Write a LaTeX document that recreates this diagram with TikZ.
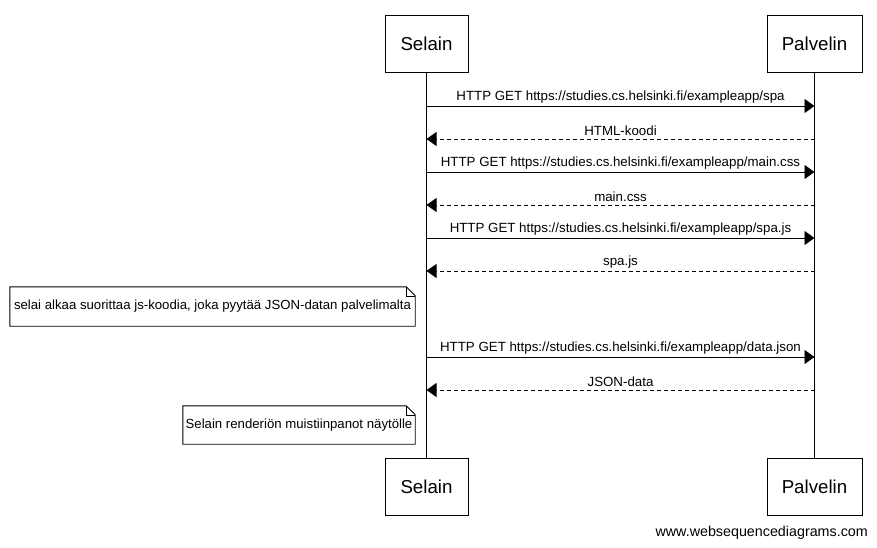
\documentclass[tikz,border=0pt]{standalone}
\usepackage{fontspec}
\setmainfont{Liberation Sans}
\usetikzlibrary{arrows.meta, calc}
\tikzset{
  actor/.style={draw=black, line width=0.9pt, fill=white, minimum height=57pt,
                inner sep=0pt, font=\fontsize{18.7}{21}\selectfont},
  life/.style={line width=0.9pt, draw=black},
  req/.style={-{Triangle[length=10pt, width=14pt]}, line width=0.9pt},
  resp/.style={req, dash pattern=on 4pt off 3pt},
  lbl/.style={above, inner sep=2.5pt, font=\fontsize{13.3}{15}\selectfont},
  notebox/.style={inner sep=0pt, align=center, font=\fontsize{13.2}{15}\selectfont},
}

\begin{document}
\begin{tikzpicture}[x=1pt, y=-1pt]
  \useasboundingbox (0,0) rectangle (877,548);
  % participants
  \node[actor, minimum width=83pt] (selT) at (426.5,43.5) {Selain};
  \node[actor, minimum width=95pt] (palT) at (814.5,43.5) {Palvelin};
  \node[actor, minimum width=83pt] (selB) at (426.5,486.5) {Selain};
  \node[actor, minimum width=95pt] (palB) at (814.5,486.5) {Palvelin};
  \draw[life] (selT) -- (selB);
  \draw[life] (palT) -- (palB);

  % message rows
  \foreach \i/\yy in {1/106, 2/139, 3/172, 4/205, 5/238, 6/271, 7/357, 8/390} {
    \coordinate (s\i) at (selT |- 0,\yy);
    \coordinate (p\i) at (palT |- 0,\yy);
  }
  \draw[req] (s1) -- node[lbl] {HTTP GET https://studies.cs.helsinki.fi/exampleapp/spa} (p1);
  \draw[resp] (p2) -- node[lbl] {HTML-koodi} (s2);
  \draw[req] (s3) -- node[lbl] {HTTP GET https://studies.cs.helsinki.fi/exampleapp/main.css} (p3);
  \draw[resp] (p4) -- node[lbl] {main.css} (s4);
  \draw[req] (s5) -- node[lbl] {HTTP GET https://studies.cs.helsinki.fi/exampleapp/spa.js} (p5);
  \draw[resp] (p6) -- node[lbl] {spa.js} (s6);
  \draw[req] (s7) -- node[lbl] {HTTP GET https://studies.cs.helsinki.fi/exampleapp/data.json} (p7);
  \draw[resp] (p8) -- node[lbl] {JSON-data} (s8);

  % notes
  \node[notebox, minimum width=405pt, minimum height=39pt] (n1) at (212.5,306.5)
    {selai alkaa suorittaa js-koodia, joka pyytää JSON-datan palvelimalta};
  \node[notebox, minimum width=232pt, minimum height=38pt] (n2) at (299,425)
    {Selain renderiön muistiinpanot näytölle};
  \foreach \n in {n1, n2} {
    \draw[line width=0.9pt] (\n.north west) -- ([xshift=-9pt]\n.north east)
      -- ([yshift=-9pt]\n.north east) -- (\n.south east) -- (\n.south west) -- cycle;
    \draw[line width=0.6pt] ([xshift=-9pt]\n.north east) |- ([yshift=-9pt]\n.north east);
  }

  \node[anchor=east, inner sep=0pt, font=\fontsize{14.3}{16}\selectfont] (wsd) at (868,533)
    {www.websequencediagrams.com};
\end{tikzpicture}
\end{document}
